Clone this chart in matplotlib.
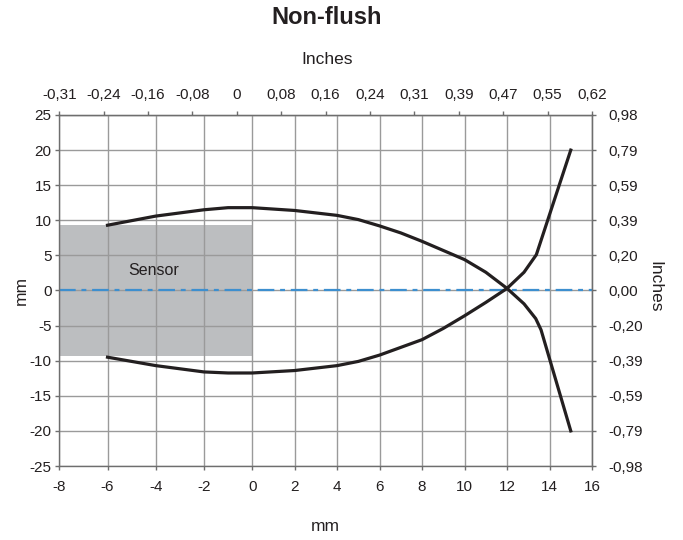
import numpy as np
import matplotlib
matplotlib.use("Agg")
import matplotlib.pyplot as plt

# curve that starts upper left and ends lower right (mm)
curve_a_x = [-6, -4, -2, -1, 0, 2, 4, 5, 6, 7, 8, 9, 10, 11, 12, 12.8, 13.35, 13.6, 15]
curve_a_y = [9.3, 10.6, 11.5, 11.8, 11.8, 11.4, 10.7, 10.1, 9.2, 8.2, 7.0, 5.7, 4.4, 2.6, 0.3, -1.9, -4.0, -5.6, -20]
# curve that starts lower left and ends upper right (mm)
curve_b_x = [-6, -4, -2, -1, 0, 2, 4, 5, 6, 7, 8, 9, 10, 11, 12, 12.8, 13.38, 15]
curve_b_y = [-9.5, -10.7, -11.6, -11.75, -11.75, -11.4, -10.7, -10.1, -9.2, -8.1, -7.0, -5.4, -3.6, -1.7, 0.3, 2.6, 5.1, 20]

sensor_x = [-8, 0]
sensor_half = 9.3

x_ticks = [-8, -6, -4, -2, 0, 2, 4, 6, 8, 10, 12, 14, 16]
x_inch_labels = ["-0,31", "-0,24", "-0,16", "-0,08", "0", "0,08", "0,16", "0,24",
                 "0,31", "0,39", "0,47", "0,55", "0,62"]
y_ticks = [25, 20, 15, 10, 5, 0, -5, -10, -15, -20, -25]
y_inch_labels = ["0,98", "0,79", "0,59", "0,39", "0,20", "0,00", "-0,20", "-0,39",
                 "-0,59", "-0,79", "-0,98"]

txt = "#231f20"
grey = "#6e6e6e"
plt.rcParams["font.family"] = ["Liberation Sans", "DejaVu Sans"]

# the source drawing is stretched a bit on the negative side
k = 1.135
def fwd(x):
    x = np.asarray(x, dtype=float)
    return np.where(x < 0, x * k, x)
def inv(u):
    u = np.asarray(u, dtype=float)
    return np.where(u < 0, u / k, u)

fig = plt.figure(figsize=(6.83, 5.4), dpi=100)
ax = fig.add_axes([59.3 / 683, 1 - 466 / 540, (592 - 59.3) / 683, (466 - 115) / 540])
ax.set_xscale("function", functions=(fwd, inv))
ax.set_xlim(-8, 16)
ax.set_ylim(-25, 25)

ax.fill_between(sensor_x, -sensor_half, sensor_half, color="#bcbec0", lw=0, zorder=0.2)
ax.set_axisbelow(True)
ax.grid(True, color="#9a9a9a", lw=1.0)

line, = ax.plot([-8, 16], [0, 0], color="#3d8fcf", lw=1.6, zorder=2)
line.set_dashes([7.5, 2.6, 2.2, 2.6])
ax.plot(curve_a_x, curve_a_y, color=txt, lw=2.3, zorder=3)
ax.plot(curve_b_x, curve_b_y, color=txt, lw=2.3, zorder=3)
ax.text(-4.1, 2.9, "Sensor", ha="center", va="center", color=txt, fontsize=11.5)

for s in ax.spines.values():
    s.set_color(grey)
    s.set_linewidth(1.0)

ax.set_xticks(x_ticks)
ax.set_xticklabels([str(t) for t in x_ticks])
ax.set_yticks(y_ticks)
ax.set_yticklabels([str(t) for t in y_ticks])
ax.tick_params(axis="x", length=3, width=1, color=grey, labelcolor=txt, labelsize=11, pad=7)
ax.tick_params(axis="y", length=3, width=1, color=grey, labelcolor=txt, labelsize=11, pad=2.5)
ax.set_xlabel("mm", color=txt, fontsize=12.5, va="center")
ax.xaxis.set_label_coords(0.5, -0.173)
ax.set_ylabel("mm", color=txt, fontsize=12.5, va="center")
ax.yaxis.set_label_coords(-0.072, 0.5)

top = ax.secondary_xaxis("top")
top.set_xticks(x_ticks)
top.set_xticklabels(x_inch_labels)
top.tick_params(length=3, width=1, color=grey, labelcolor=txt, labelsize=11, pad=6)
top.set_xlabel("Inches", color=txt, fontsize=12.5, va="center")
top.xaxis.set_label_coords(326.7 / 683, 1 - 60 / 540, transform=fig.transFigure)

right = ax.secondary_yaxis("right")
right.set_yticks(y_ticks)
right.set_yticklabels(y_inch_labels)
right.tick_params(length=3, width=1, color=grey, labelcolor=txt, labelsize=11, pad=9)
right.set_ylabel("Inches", color=txt, fontsize=12.5, rotation=270, va="center")
right.yaxis.set_label_coords(655 / 683, 1 - 287 / 540, transform=fig.transFigure)

fig.text(326.7 / 683, 1 - 17 / 540, "Non-flush", ha="center", va="center", fontsize=17,
         fontweight="bold", color=txt)

fig.savefig("out.png", dpi=100)
